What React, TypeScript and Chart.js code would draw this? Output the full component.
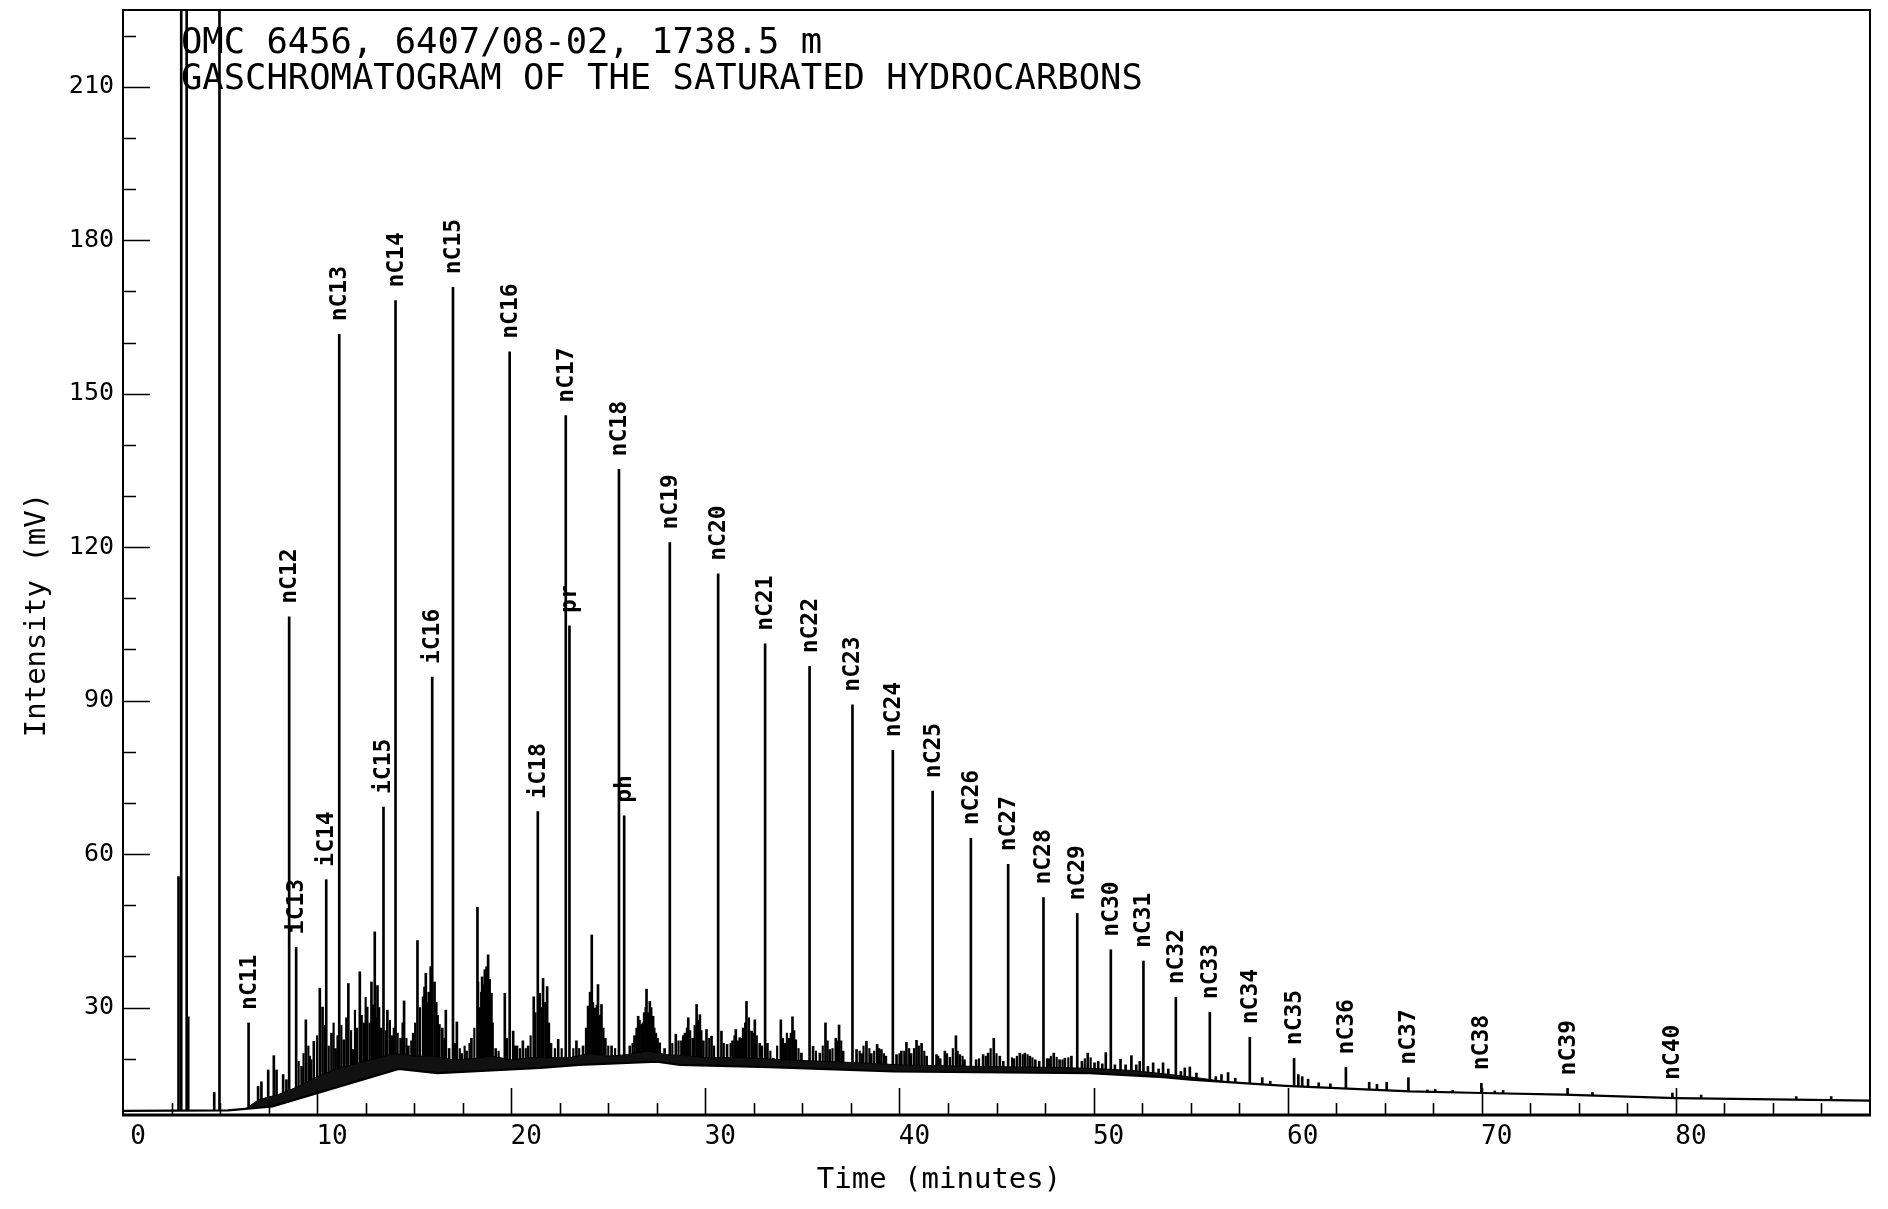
import React, { useEffect, useRef } from 'react';
import { Chart, registerables } from 'chart.js';

Chart.register(...registerables);

const X_MIN = 0;
const X_MAX = 90;
const Y_MIN = 9;
const Y_MAX = 225;

const titleLines = [
  'OMC 6456, 6407/08-02, 1738.5 m',
  'GASCHROMATOGRAM OF THE SATURATED HYDROCARBONS',
];
const xAxisTitle = 'Time (minutes)';
const yAxisTitle = 'Intensity (mV)';

const xTickValues = [0, 10, 20, 30, 40, 50, 60, 70, 80];
const yTickValues = [30, 60, 90, 120, 150, 180, 210];

// Labelled peaks
const peakLabels = [
  'nC11', 'nC12', 'iC13', 'iC14', 'nC13', 'iC15', 'nC14', 'iC16', 'nC15', 'nC16',
  'iC18', 'nC17', 'pr', 'nC18', 'ph', 'nC19', 'nC20', 'nC21', 'nC22', 'nC23',
  'nC24', 'nC25', 'nC26', 'nC27', 'nC28', 'nC29', 'nC30', 'nC31', 'nC32', 'nC33',
  'nC34', 'nC35', 'nC36', 'nC37', 'nC38', 'nC39', 'nC40',
];
const peakTimes = [
  6.47, 8.56, 8.92, 10.47, 11.14, 13.42, 14.04, 15.93, 17.0, 19.92,
  21.37, 22.81, 23.0, 25.55, 25.82, 28.17, 30.66, 33.08, 35.37, 37.58,
  39.66, 41.71, 43.68, 45.6, 47.42, 49.16, 50.89, 52.57, 54.24, 55.99,
  58.05, 60.33, 63.0, 66.22, 69.98, 74.42, 79.82,
];
const peakHeights = [
  27.0, 106.4, 41.8, 55.0, 161.6, 69.2, 168.2, 94.6, 170.8, 158.2,
  68.3, 145.7, 104.6, 135.2, 67.5, 120.9, 114.8, 101.1, 96.7, 89.2,
  80.3, 72.3, 63.1, 58.0, 51.5, 48.4, 41.3, 39.1, 32.0, 29.1,
  24.2, 20.1, 18.3, 16.3, 15.2, 14.2, 13.3,
];

// Unlabelled resolved peaks (solvent peaks run off the top of the plot)
const minorTimes = [
  2.86, 3.0, 3.28, 3.36, 4.7, 4.97, 6.96, 7.13, 7.48, 7.77,
  7.91, 8.25, 8.42, 9.2, 9.42, 9.62, 9.83, 10.14, 10.28, 10.74,
  10.95, 11.37, 11.61, 11.86, 12.05, 12.2, 12.42, 12.58, 12.8, 12.97,
  13.11, 13.3, 13.62, 13.85, 14.3, 14.48, 14.7, 14.95, 15.17, 15.46,
  15.6, 15.75, 15.85, 16.05, 16.3, 16.45, 16.63, 16.8, 17.2, 17.45,
  17.7, 17.95, 18.26, 18.38, 18.5, 18.64, 18.81, 18.98, 19.2, 19.67,
  20.1, 20.3, 20.6, 20.87, 21.16, 21.47, 21.64, 21.85, 22.05, 22.42,
  23.36, 23.7, 23.96, 24.15, 24.3, 24.47, 24.65, 24.85, 25.17, 26.11,
  26.35, 26.54, 26.71, 26.85, 26.97, 27.14, 27.31, 27.45, 27.65, 27.9,
  28.48, 28.77, 28.95, 29.12, 29.35, 29.55, 29.72, 29.9, 30.06, 30.32,
  30.83, 31.12, 31.4, 31.57, 31.77, 31.95, 32.12, 32.38, 32.55, 32.8,
  33.2, 33.5, 33.89, 34.1, 34.3, 34.49, 34.66, 34.95, 35.55, 35.9,
  36.19, 36.41, 36.72, 36.89, 37.1, 37.79, 38.05, 38.3, 38.55, 38.85,
  39.07, 39.3, 39.85, 40.1, 40.36, 40.6, 40.88, 41.14, 41.4, 41.91,
  42.1, 42.34, 42.6, 42.91, 43.11, 43.35, 43.95, 44.31, 44.57, 44.86,
  45.17, 45.35, 45.9, 46.2, 46.46, 46.72, 47.0, 47.2, 47.7, 47.95,
  48.25, 48.52, 48.86, 49.4, 49.7, 50.05, 50.24, 50.45, 50.63, 51.1,
  51.39, 51.65, 51.95, 52.2, 52.38, 52.8, 53.07, 53.35, 53.58, 53.85,
  54.5, 54.7, 54.96, 55.3, 56.3, 56.59, 56.93, 57.3, 58.69, 59.1,
  60.55, 60.75, 61.05, 61.6, 62.2, 64.2, 64.6, 65.1, 67.2, 67.6,
  68.5, 70.67, 71.1, 75.7, 81.3, 86.2, 88.0,
];
const minorHeights = [
  55.6, 240, 240, 28.2, 13.4, 240, 14.6, 15.5, 17.8, 20.6,
  17.8, 16.9, 15.9, 18.5, 27.6, 20.5, 23.4, 33.8, 30.1, 25.0,
  22.0, 23.7, 34.7, 21.8, 26.0, 37.0, 27.0, 30.1, 35.0, 44.8,
  34.3, 26.0, 29.5, 24.5, 24.0, 31.3, 22.5, 25.0, 43.1, 32.1,
  36.7, 33.0, 38.0, 35.0, 26.7, 26.0, 29.5, 22.0, 27.2, 21.0,
  21.5, 24.0, 49.6, 30.0, 36.0, 37.4, 40.3, 32.8, 22.0, 32.8,
  25.4, 22.5, 23.5, 22.5, 32.1, 32.8, 35.7, 34.1, 23.0, 23.8,
  23.5, 22.5, 30.3, 44.2, 29.9, 34.5, 30.6, 24.0, 22.5, 22.5,
  24.5, 28.3, 26.7, 29.0, 33.6, 31.2, 28.3, 25.0, 23.1, 22.0,
  24.8, 23.5, 25.0, 28.0, 24.0, 30.6, 28.6, 23.5, 25.7, 24.4,
  25.4, 22.8, 23.5, 25.7, 24.1, 26.0, 31.2, 25.4, 27.6, 23.0,
  23.0, 20.1, 27.6, 23.0, 24.0, 28.2, 23.7, 21.1, 22.4, 21.1,
  27.0, 21.8, 24.0, 26.6, 21.5, 21.8, 21.0, 23.4, 21.0, 22.8,
  21.8, 20.5, 20.8, 21.5, 23.2, 21.0, 23.6, 23.0, 20.5, 20.8,
  20.0, 21.5, 20.3, 24.5, 20.8, 19.8, 19.8, 20.8, 21.1, 24.0,
  20.5, 19.5, 20.0, 21.1, 21.1, 20.5, 19.8, 19.5, 20.0, 21.1,
  19.8, 20.1, 20.5, 19.5, 21.1, 19.2, 19.5, 19.0, 21.2, 18.8,
  19.9, 18.8, 20.6, 18.8, 19.5, 18.5, 19.2, 18.0, 19.2, 18.0,
  17.5, 18.2, 18.4, 17.2, 16.5, 16.9, 17.3, 16.2, 16.3, 15.6,
  16.9, 16.5, 16.0, 15.3, 15.1, 15.4, 15.0, 15.4, 13.9, 14.0,
  13.8, 13.7, 13.8, 13.4, 12.9, 12.6, 12.6,
];

// Small unresolved spikes riding on the hump
const hashTimes = [
  9.05, 9.3, 9.55, 9.7, 10.0, 10.4, 10.6, 10.85, 11.05, 11.25,
  11.5, 11.75, 11.95, 12.3, 12.5, 12.7, 12.88, 13.05, 13.2, 13.55,
  13.75, 13.95, 14.15, 14.4, 14.6, 14.85, 15.05, 15.3, 15.52, 15.68,
  16.15, 16.22, 16.55, 17.1, 17.35, 17.6, 17.85, 18.1, 18.3, 18.45,
  18.57, 18.72, 18.9, 19.05, 19.35, 19.78, 20.2, 20.45, 20.75, 21.0,
  21.25, 21.55, 21.75, 21.95, 22.25, 22.6, 23.2, 23.5, 23.85, 24.05,
  24.22, 24.4, 24.56, 24.75, 25.0, 25.35, 26.25, 26.45, 26.62, 26.78,
  26.92, 27.05, 27.22, 27.38, 27.55, 28.3, 28.62, 28.85, 29.05, 29.22,
  29.45, 29.62, 29.8, 30.2, 30.45, 30.95, 31.3, 31.5, 31.68, 31.85,
  32.05, 32.25, 32.45, 32.65, 32.92, 33.35, 33.7, 34.0, 34.2, 34.4,
  34.58, 34.8, 35.7, 36.05, 36.3, 36.55, 36.8, 37.0, 37.95, 38.15,
  38.45, 38.7, 38.95, 39.2, 40.0, 40.25, 40.5, 40.75, 41.0, 41.28,
  42.0, 42.45, 42.75, 43.0, 43.25, 44.1, 44.45, 44.7, 45.0, 45.8,
  46.05, 46.35, 46.6, 46.85, 47.6, 47.8, 48.1, 48.4, 48.7, 49.55,
  49.85,
];
const hashHeights = [
  19.5, 21.0, 22.5, 19.8, 24.5, 26.5, 22.5, 27.0, 24.5, 26.5,
  28.0, 25.5, 29.5, 28.5, 32.0, 27.0, 30.5, 28.0, 30.0, 25.5,
  27.5, 26.0, 25.0, 27.0, 24.0, 23.5, 27.0, 30.0, 34.0, 31.0,
  31.0, 28.5, 24.0, 23.0, 22.0, 22.5, 23.0, 26.0, 35.0, 33.0,
  34.5, 38.0, 35.5, 27.0, 21.5, 24.0, 22.5, 22.0, 22.0, 24.5,
  29.0, 30.0, 31.0, 27.0, 22.0, 22.0, 22.0, 22.0, 26.0, 33.0,
  31.0, 30.5, 28.5, 26.0, 22.5, 22.0, 23.0, 26.0, 27.5, 27.0,
  30.0, 29.0, 30.0, 26.0, 24.0, 23.0, 23.5, 24.5, 26.0, 25.5,
  26.5, 27.5, 25.5, 24.0, 22.5, 23.0, 23.0, 24.5, 23.5, 24.0,
  27.0, 28.0, 25.0, 24.5, 22.5, 21.5, 22.5, 24.0, 25.0, 25.0,
  25.5, 22.0, 21.5, 22.5, 23.5, 22.0, 23.5, 23.5, 21.5, 22.5,
  22.0, 21.5, 22.0, 21.0, 21.0, 21.5, 22.0, 22.0, 22.5, 21.5,
  20.5, 21.0, 22.0, 21.5, 20.5, 20.0, 20.5, 22.0, 21.0, 20.2,
  20.5, 20.8, 20.8, 20.2, 20.0, 20.5, 20.3, 19.8, 20.2, 20.0,
  20.2,
];

// Drawn integration baseline under the hump
const baselineTimes = [0, 5.4, 6.3, 7.7, 14.2, 16.2, 21.5, 23.5, 27.5, 28.7, 33.3, 39.7, 49.8, 53.6, 55.0, 57.9, 59.9, 66.3, 70.0, 74.2, 80.0, 84.0, 90.0];
const baselineValues = [9.8, 9.9, 10.2, 10.7, 18.0, 17.2, 18.2, 18.8, 19.45, 18.8, 18.35, 17.5, 17.2, 16.4, 15.9, 15.2, 14.7, 13.6, 13.3, 13.0, 12.3, 12.1, 11.8];

// Top of the dense unresolved band above the baseline
const floorTimes = [6.3, 7.0, 8.0, 9.0, 10.0, 11.0, 12.0, 13.0, 14.0, 15.0, 16.0, 17.0, 18.0, 19.0, 20.0, 21.0, 22.0, 23.0, 24.0, 25.0, 26.0, 27.0, 28.0, 29.0, 30.0, 32.0, 34.0, 36.0, 38.0, 40.0, 44.0, 48.0, 50.0, 52.0, 54.0, 55.5, 57.0];
const floorValues = [10.2, 12.0, 13.0, 14.5, 16.5, 18.0, 19.0, 20.0, 21.0, 20.5, 20.5, 19.8, 20.0, 20.5, 19.8, 20.2, 20.2, 20.2, 21.0, 20.5, 20.8, 21.5, 20.8, 20.6, 20.2, 20.2, 19.8, 19.5, 19.2, 18.8, 18.5, 18.3, 18.1, 17.7, 16.9, 16.2, 15.4];

const MONO = "'DejaVu Sans Mono', 'Liberation Mono', monospace";

const spikeSet = (label: string, times: number[], heights: number[], order: number, thickness: number) => ({
  type: 'bar',
  label,
  data: times.map((t, i) => ({ x: t, y: [Y_MIN, heights[i]] })),
  backgroundColor: '#000',
  borderWidth: 0,
  barThickness: thickness,
  grouped: false,
  order,
});

export default function App() {
  const ref = useRef<HTMLCanvasElement>(null);

  useEffect(() => {
    if (!ref.current) return;

    const overlay = {
      id: 'overlay',
      afterDraw(chart: any) {
        const { ctx, chartArea: a, scales } = chart;
        const xs = scales.x;
        const ys = scales.y;
        ctx.save();
        ctx.strokeStyle = '#000';
        ctx.fillStyle = '#000';

        // frame
        ctx.lineWidth = 2;
        ctx.beginPath();
        ctx.moveTo(a.left, a.bottom);
        ctx.lineTo(a.left, a.top);
        ctx.lineTo(a.right, a.top);
        ctx.lineTo(a.right, a.bottom);
        ctx.stroke();
        ctx.lineWidth = 3;
        ctx.beginPath();
        ctx.moveTo(a.left - 1, a.bottom);
        ctx.lineTo(a.right + 1, a.bottom);
        ctx.stroke();

        // inward ticks
        ctx.lineWidth = 1.6;
        ctx.beginPath();
        for (let v = 20; v <= 220; v += 10) {
          const y = Math.round(ys.getPixelForValue(v)) + 0.5;
          const len = v % 30 === 0 ? 27 : 13;
          ctx.moveTo(a.left, y);
          ctx.lineTo(a.left + len, y);
        }
        for (let k = 1; k < 36; k++) {
          const v = k * 2.5;
          const x = Math.round(xs.getPixelForValue(v)) + 0.5;
          const len = v % 10 === 0 ? 27 : 12;
          ctx.moveTo(x, a.bottom);
          ctx.lineTo(x, a.bottom - len);
        }
        ctx.stroke();

        // peak labels
        ctx.font = `bold 23px ${MONO}`;
        ctx.textAlign = 'left';
        ctx.textBaseline = 'middle';
        peakLabels.forEach((lab, i) => {
          const x = xs.getPixelForValue(peakTimes[i]) + 1;
          const y = ys.getPixelForValue(peakHeights[i]) - 13;
          ctx.save();
          ctx.translate(x, y);
          ctx.rotate(-Math.PI / 2);
          ctx.fillText(lab, 0, 0);
          ctx.restore();
        });

        // title inside plot
        ctx.font = `35.5px ${MONO}`;
        ctx.textBaseline = 'alphabetic';
        ctx.fillText(titleLines[0], a.left + 58, a.top + 43);
        ctx.fillText(titleLines[1], a.left + 58, a.top + 79);

        // axis titles
        ctx.font = `29px ${MONO}`;
        ctx.textAlign = 'center';
        ctx.textBaseline = 'middle';
        ctx.fillText(xAxisTitle, a.left + 816, a.bottom + 65);
        ctx.save();
        ctx.translate(37, a.top + 605);
        ctx.rotate(-Math.PI / 2);
        ctx.fillText(yAxisTitle, 0, 0);
        ctx.restore();

        ctx.restore();
      },
    };

    const chart = new Chart(ref.current, {
      type: 'bar',
      data: {
        datasets: [
          spikeSet('labelled peaks', peakTimes, peakHeights, 10, 2) as any,
          spikeSet('other peaks', minorTimes, minorHeights, 9, 2) as any,
          spikeSet('unresolved spikes', hashTimes, hashHeights, 8, 1.5) as any,
          {
            type: 'line',
            label: 'unresolved band',
            data: floorTimes.map((t, i) => ({ x: t, y: floorValues[i] })),
            borderColor: '#000',
            borderWidth: 1,
            backgroundColor: '#111',
            fill: 'start',
            pointRadius: 0,
            tension: 0,
            order: 5,
          } as any,
          {
            type: 'line',
            label: 'baseline',
            data: baselineTimes.map((t, i) => ({ x: t, y: baselineValues[i] })),
            borderColor: '#000',
            borderWidth: 2.2,
            backgroundColor: '#fff',
            fill: 'start',
            pointRadius: 0,
            tension: 0,
            order: 1,
          } as any,
        ],
      },
      options: {
        animation: false,
        responsive: true,
        maintainAspectRatio: false,
        layout: { padding: { top: 10, right: 18, left: 0, bottom: 0 } },
        plugins: {
          legend: { display: false },
          tooltip: { enabled: false },
          title: { display: false },
        },
        scales: {
          x: {
            type: 'linear',
            min: X_MIN,
            max: X_MAX,
            offset: false,
            grid: { display: false, drawTicks: false },
            border: { display: false },
            ticks: {
              color: '#000',
              font: { family: MONO, size: 26 },
              padding: 7,
              align: 'center',
              labelOffset: 15,
              maxRotation: 0,
              autoSkip: false,
            },
            afterBuildTicks: (s: any) => {
              s.ticks = xTickValues.map((v) => ({ value: v }));
            },
            afterFit: (s: any) => {
              s.height = 94;
              s.paddingLeft = 0;
              s.paddingRight = 0;
            },
          },
          y: {
            type: 'linear',
            min: Y_MIN,
            max: Y_MAX,
            grid: { display: false, drawTicks: false },
            border: { display: false },
            ticks: {
              color: '#000',
              font: { family: MONO, size: 25 },
              padding: 9,
            },
            afterBuildTicks: (s: any) => {
              s.ticks = yTickValues.map((v) => ({ value: v }));
            },
            afterFit: (s: any) => {
              s.width = 123;
              s.paddingTop = 0;
              s.paddingBottom = 0;
            },
          },
        } as any,
      },
      plugins: [overlay],
    });

    return () => chart.destroy();
  }, []);

  return (
    <div style={{ position: 'fixed', left: 0, top: 0, width: 1888, height: 1209, background: '#fff' }}>
      <canvas ref={ref} />
    </div>
  );
}
